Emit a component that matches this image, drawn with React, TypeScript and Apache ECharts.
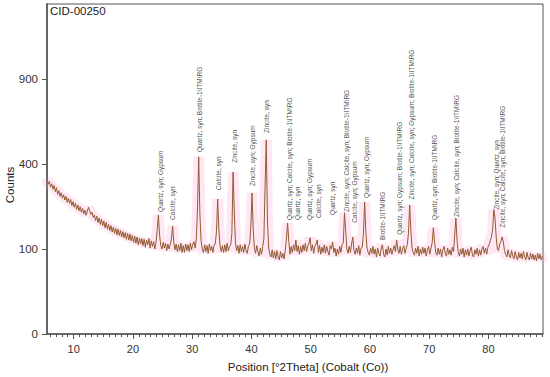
import React, { useEffect, useRef } from "react";
import * as echarts from "echarts";

// Scan grid of the measurement (°2Theta)
const SCAN_START = 5.5;
const SCAN_STEP = 0.2;

// Measured counts, one value per scan step (5.5 .. 89.1 °2Theta)
const counts: number[] = [
  335, 310, 322, 298, 312,
  290, 305, 280, 296, 270,
  284, 262, 276, 255, 268,
  248, 262, 240, 255, 236,
  250, 228, 242, 222, 236,
  215, 230, 210, 224, 205,
  218, 200, 212, 195, 208,
  222, 210, 198, 205, 188,
  196, 178, 192, 172, 186,
  166, 182, 162, 176, 156,
  172, 152, 166, 148, 162,
  144, 158, 140, 154, 136,
  152, 134, 148, 130, 145,
  128, 142, 124, 140, 122,
  138, 120, 134, 116, 132,
  114, 130, 110, 127, 112,
  126, 108, 124, 104, 122,
  110, 126, 102, 120, 106,
  118, 100, 116, 150, 196,
  135, 108, 100, 116, 102,
  114, 96, 112, 100, 110,
  125, 161, 115, 98, 112,
  94, 110, 96, 114, 92,
  108, 92, 112, 96, 110,
  94, 114, 98, 112, 118,
  102, 125, 220, 434, 200,
  120, 100, 92, 110, 94,
  108, 90, 112, 96, 106,
  92, 110, 112, 145, 252,
  150, 108, 94, 108, 92,
  110, 94, 114, 96, 106,
  110, 140, 363, 210, 115,
  96, 108, 90, 110, 94,
  106, 92, 112, 96, 90,
  108, 112, 160, 275, 150,
  102, 90, 108, 94, 84,
  102, 88, 106, 125, 300,
  521, 180, 102, 88, 82,
  98, 80, 94, 78, 96,
  82, 76, 94, 80, 90,
  78, 96, 125, 170, 120,
  88, 106, 92, 110, 96,
  122, 94, 108, 88, 106,
  92, 110, 96, 114, 94,
  106, 114, 128, 96, 110,
  90, 106, 112, 122, 92,
  108, 88, 104, 92, 110,
  90, 106, 94, 86, 108,
  100, 117, 92, 102, 84,
  100, 88, 106, 92, 110,
  115, 203, 150, 100, 90,
  106, 92, 112, 130, 96,
  88, 102, 90, 108, 86,
  102, 104, 140, 241, 145,
  102, 92, 86, 102, 90,
  106, 88, 100, 82, 102,
  90, 84, 102, 110, 88,
  82, 100, 86, 106, 90,
  102, 88, 98, 108, 94,
  122, 98, 90, 106, 88,
  100, 108, 90, 102, 110,
  140, 230, 150, 102, 92,
  86, 102, 90, 106, 84,
  100, 88, 104, 90, 102,
  84, 98, 106, 88, 102,
  115, 156, 118, 92, 86,
  102, 88, 100, 82, 98,
  106, 90, 84, 102, 88,
  98, 86, 104, 94, 135,
  186, 120, 92, 84, 100,
  88, 102, 82, 98, 86,
  100, 84, 96, 104, 86,
  82, 98, 88, 102, 84,
  98, 86, 100, 106, 90,
  102, 88, 104, 110, 120,
  130, 150, 213, 185, 130,
  100, 96, 112, 118, 130,
  118, 96, 88, 82, 98,
  86, 80, 96, 84, 78,
  94, 82, 76, 92, 80,
  90, 78, 94, 82, 76,
  92, 80, 76, 90, 78,
  88, 76, 86, 74, 90,
  78, 88, 76, 84,
];

// Peak identification labels
const peakPositions: number[] = [
  24.6, 26.7, 31.25, 34.45, 37.1, 40.2, 42.47, 46.4, 47.8, 49.8, 51.3,
  53.7, 56.05, 57.4, 59.4, 62.1, 65.0, 67.0, 70.9, 74.6, 81.4, 82.3,
];
const labelLevels: number[] = [
  206, 180, 458, 287, 405, 303, 559, 180, 180, 180, 186,
  196, 206, 171, 256, 122, 136, 250, 180, 189, 213, 156,
];
const peakLabels: string[] = [
  "Quartz, syn; Gypsum",
  "Calcite, syn",
  "Quartz, syn; Biotite-1\\ITM\\RG",
  "Calcite, syn",
  "Zincite, syn",
  "Zincite, syn; Gypsum",
  "Zincite, syn",
  "Quartz, syn; Calcite, syn; Biotite-1\\ITM\\RG",
  "Quartz, syn",
  "Quartz, syn; Gypsum",
  "Calcite, syn",
  "Quartz, syn",
  "Zincite, syn; Calcite, syn; Biotite-1\\ITM\\RG",
  "Calcite, syn; Gypsum",
  "Quartz, syn; Gypsum",
  "Biotite-1\\ITM\\RG",
  "Quartz, syn; Gypsum; Biotite-1\\ITM\\RG",
  "Zincite, syn; Calcite, syn; Gypsum; Biotite-1\\ITM\\RG",
  "Quartz, syn; Biotite-1\\ITM\\RG",
  "Zincite, syn; Calcite, syn; Biotite-1\\ITM\\RG",
  "Zincite, syn; Quartz, syn",
  "Zincite, syn; Calcite, syn; Biotite-1\\ITM\\RG",
];

const xMajorTicks: number[] = [10, 20, 30, 40, 50, 60, 70, 80];
const yTickCounts: number[] = [0, 100, 400, 900];

const TITLE = "CID-00250";
const X_NAME = "Position [°2Theta] (Cobalt (Co))";
const Y_NAME = "Counts";

export default function App() {
  const ref = useRef<HTMLDivElement>(null);

  useEffect(() => {
    if (!ref.current) return;
    const chart = echarts.init(ref.current, undefined, { renderer: "svg" });

    const pattern = counts.map((c, i) => [
      +(SCAN_START + SCAN_STEP * i).toFixed(2),
      Math.sqrt(c),
    ]);
    const labelData = peakPositions.map((p, i) => ({
      value: [p, Math.sqrt(labelLevels[i])],
      label: { formatter: peakLabels[i] },
    }));
    const xMinor: number[] = [];
    for (let v = 6; v <= 89; v++) if (v % 10 !== 0) xMinor.push(v);

    const font = "'Liberation Sans', Arial, sans-serif";

    chart.setOption({
      animation: false,
      backgroundColor: "#ffffff",
      grid: {
        left: 47,
        right: 7,
        top: 4,
        bottom: 43,
        show: true,
        borderColor: "#555",
        borderWidth: 1,
        containLabel: false,
      },
      xAxis: [
        {
          type: "value",
          min: 5.5,
          max: 89.2,
          position: "bottom",
          axisLine: { show: true, lineStyle: { color: "#555", width: 1.5 } },
          axisTick: {
            show: true,
            length: 5,
            customValues: xMajorTicks,
            lineStyle: { color: "#555" },
          },
          axisLabel: {
            show: true,
            customValues: xMajorTicks,
            margin: 9,
            fontSize: 11,
            color: "#333",
            fontFamily: font,
          },
          splitLine: { show: false },
        },
        {
          type: "value",
          min: 5.5,
          max: 89.2,
          position: "bottom",
          axisLine: { show: false },
          axisTick: {
            show: true,
            length: 3,
            customValues: xMinor,
            lineStyle: { color: "#555" },
          },
          axisLabel: { show: false },
          splitLine: { show: false },
        },
      ],
      yAxis: {
        type: "value",
        min: 0,
        max: 38.8,
        axisLine: { show: true, lineStyle: { color: "#666", width: 2 } },
        axisTick: {
          show: true,
          length: 5,
          customValues: yTickCounts.map((c) => Math.sqrt(c)),
          lineStyle: { color: "#555" },
        },
        axisLabel: {
          show: true,
          customValues: yTickCounts.map((c) => Math.sqrt(c)),
          formatter: (v: number) => String(Math.round(v * v)),
          margin: 9,
          fontSize: 11.5,
          color: "#333",
          fontFamily: font,
        },
        splitLine: { show: false },
      },
      series: [
        {
          type: "line",
          data: pattern,
          showSymbol: false,
          silent: true,
          lineStyle: { color: "rgba(255,160,205,0.24)", width: 11 },
          z: 1,
        },
        {
          type: "line",
          data: pattern,
          showSymbol: false,
          lineStyle: { color: "#935a33", width: 1 },
          z: 3,
        },
        {
          type: "scatter",
          data: labelData,
          symbolSize: 0,
          silent: true,
          z: 4,
          label: {
            show: true,
            position: "top",
            distance: 0,
            rotate: 90,
            align: "left",
            verticalAlign: "middle",
            fontSize: 6.5,
            color: "#222",
            fontFamily: font,
          },
        },
      ],
      graphic: [
        {
          type: "text",
          x: 50,
          y: 5,
          style: {
            text: TITLE,
            fill: "#222",
            font: `11.5px ${font}`,
          },
        },
        {
          type: "text",
          x: 10,
          y: 185,
          rotation: Math.PI / 2,
          style: {
            text: Y_NAME,
            fill: "#222",
            font: `11.5px ${font}`,
            align: "center",
            verticalAlign: "middle",
          },
        },
        {
          type: "text",
          x: 308,
          y: 367,
          style: {
            text: X_NAME,
            fill: "#222",
            font: `11.5px ${font}`,
            align: "center",
            verticalAlign: "middle",
          },
        },
      ],
    });

    return () => chart.dispose();
  }, []);

  return (
    <div
      ref={ref}
      style={{ position: "fixed", left: 0, top: 0, width: 550, height: 377 }}
    />
  );
}
